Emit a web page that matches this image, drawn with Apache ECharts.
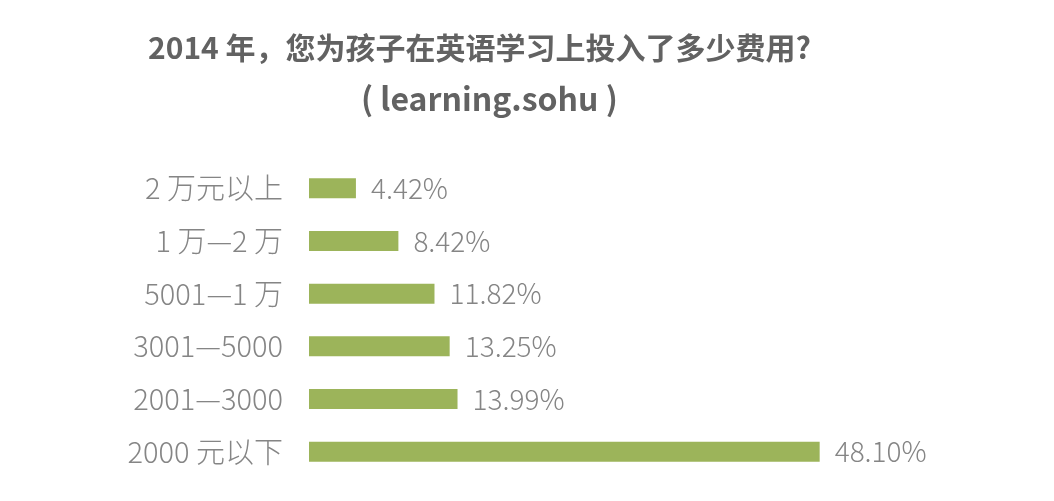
<!DOCTYPE html>
<html>
<head>
<meta charset="utf-8">
<script src="https://cdn.jsdelivr.net/npm/echarts@6/dist/echarts.min.js"></script>
<style>
  html, body { margin: 0; padding: 0; background: #fff; }
  #chart { width: 1054px; height: 501px; }
</style>
</head>
<body>
<div id="chart"></div>
<script>
const categories = ['2 万元以上', '1 万—2 万', '5001—1 万', '3001—5000', '2001—3000', '2000 元以下']
const shares = [4.42, 8.42, 11.82, 13.25, 13.99, 48.10]

const titleText = '2014 年，您为孩子在英语学习上投入了多少费用?'
const subText = '( learning.sohu )'

const font = '"Noto Sans CJK SC", "Noto Sans", sans-serif'
const chart = echarts.init(document.getElementById('chart'))

chart.setOption({
  backgroundColor: '#fff',
  animation: false,
  title: [
    {
      text: titleText,
      left: 143,
      top: 28,
      textStyle: { fontFamily: font, fontSize: 30, fontWeight: 'bold', color: '#626262' },
    },
    {
      text: subText,
      left: 356,
      top: 78,
      textStyle: { fontFamily: font, fontSize: 32, fontWeight: 'bold', color: '#626262' },
    },
  ],
  grid: { left: 309, right: 108, top: 162, bottom: 23 },
  xAxis: {
    type: 'value',
    min: 0,
    max: 60,
    show: false,
  },
  yAxis: {
    type: 'category',
    data: categories,
    inverse: true,
    axisLine: { show: false },
    axisTick: { show: false },
    axisLabel: {
      margin: 26,
      fontFamily: font,
      fontSize: 29,
      fontWeight: 300,
      color: '#858585',
    },
  },
  series: [{
    type: 'bar',
    data: shares,
    barWidth: 20,
    itemStyle: { color: '#9cb45a' },
    label: {
      show: true,
      position: 'right',
      distance: 15,
      formatter: (p) => p.value.toFixed(2) + '%',
      fontFamily: font,
      fontSize: 28,
      fontWeight: 300,
      color: '#858585',
    },
  }],
})
</script>
</body>
</html>
